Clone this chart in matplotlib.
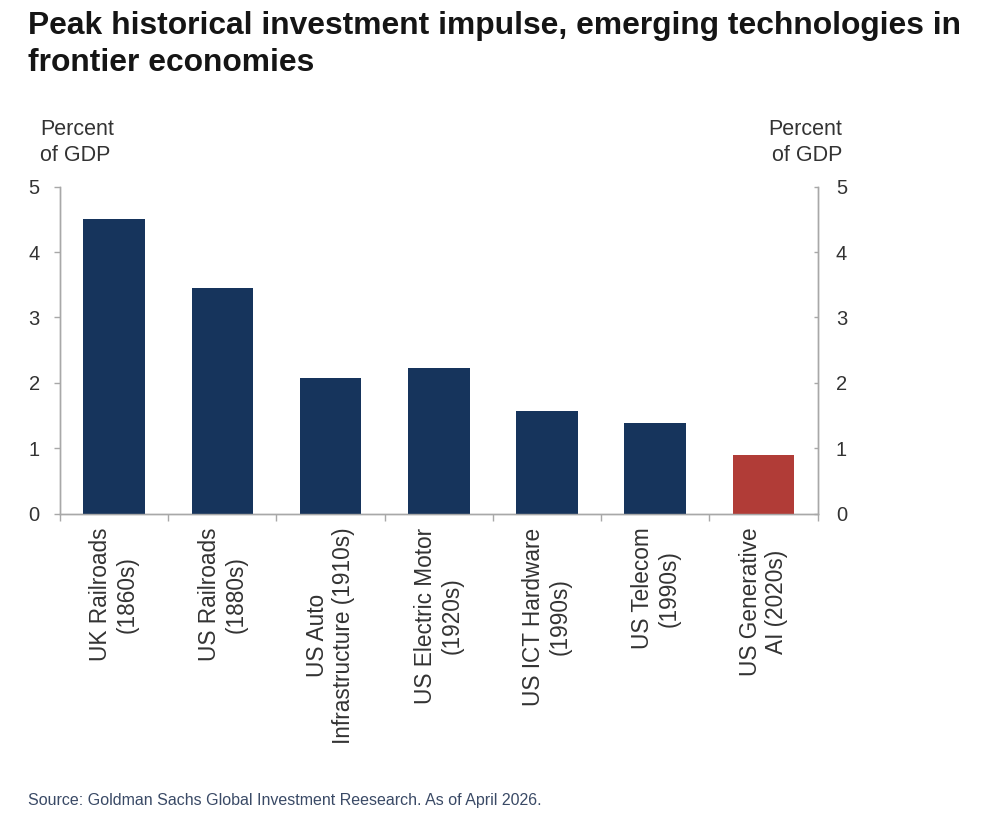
import numpy as np
import matplotlib
matplotlib.use("Agg")
import matplotlib.pyplot as plt

plt.rcParams['font.family'] = ['Liberation Sans', 'DejaVu Sans']

# data
categories = ["UK Railroads\n(1860s)", "US Railroads\n(1880s)", "US Auto\nInfrastructure (1910s)",
              "US Electric Motor\n(1920s)", "US ICT Hardware\n(1990s)", "US Telecom\n(1990s)",
              "US Generative\nAI (2020s)"]
values = [4.5, 3.45, 2.08, 2.22, 1.57, 1.39, 0.89]
highlight = [False, False, False, False, False, False, True]
yticks = [0, 1, 2, 3, 4, 5]

navy = "#16345c"
red = "#b13c37"
axis_gray = "#a8a8a8"
text_col = "#333333"

fig = plt.figure(figsize=(9.94, 8.26), dpi=100)
ax = fig.add_axes([60 / 994, 1 - 513.5 / 826, (817.7 - 60) / 994, (513.5 - 186.7) / 826])

x = np.arange(len(categories))
colors = [red if h else navy for h in highlight]
ax.bar(x, values, width=0.57, color=colors, zorder=3)

ax.set_xlim(-0.5, len(categories) - 0.5)
ax.set_ylim(0, 5)
ax.set_yticks(yticks)
ax.set_xticks(x)
ax.set_xticklabels(categories, rotation=90, ha="center", va="top",
                   fontsize=16.3, color=text_col, linespacing=1.2)
ax.set_xticks(np.arange(-0.5, len(categories) + 0.5, 1), minor=True)
ax.tick_params(axis="x", which="major", length=0, pad=10)
ax.tick_params(axis="x", which="minor", length=5, width=1, color=axis_gray, direction="out")
ax.tick_params(axis="y", length=4.5, width=1, color=axis_gray, labelsize=14.5,
               labelcolor=text_col, pad=10, direction="out")

ax2 = ax.twinx()
ax2.set_ylim(0, 5)
ax2.set_yticks(yticks)
ax2.tick_params(axis="y", length=3, width=1, color=axis_gray, labelsize=14.5,
                labelcolor=text_col, pad=13, direction="in")

for a in (ax, ax2):
    a.spines["top"].set_visible(False)
    for s in ("left", "right", "bottom"):
        a.spines[s].set_color(axis_gray)
        a.spines[s].set_linewidth(1)

fig.text(40 / 994, 1 - 119 / 826, "Percent\nof GDP", ha="left", va="top",
         fontsize=15.5, color=text_col, linespacing=1.32)
fig.text(842 / 994, 1 - 119 / 826, "Percent\nof GDP", ha="right", va="top",
         fontsize=15.5, color=text_col, linespacing=1.32)

fig.text(28 / 994, 1 - 11 / 826,
         "Peak historical investment impulse, emerging technologies in\nfrontier economies",
         ha="left", va="top", fontsize=22.9, fontweight="bold", color="#151515", linespacing=1.3)

fig.text(28 / 994, 1 - 801 / 826, "Source: Goldman Sachs Global Investment Reesearch. As of April 2026.",
         ha="left", va="center", fontsize=11.5, color="#3a4a66")

fig.savefig("out.png", dpi=100)
